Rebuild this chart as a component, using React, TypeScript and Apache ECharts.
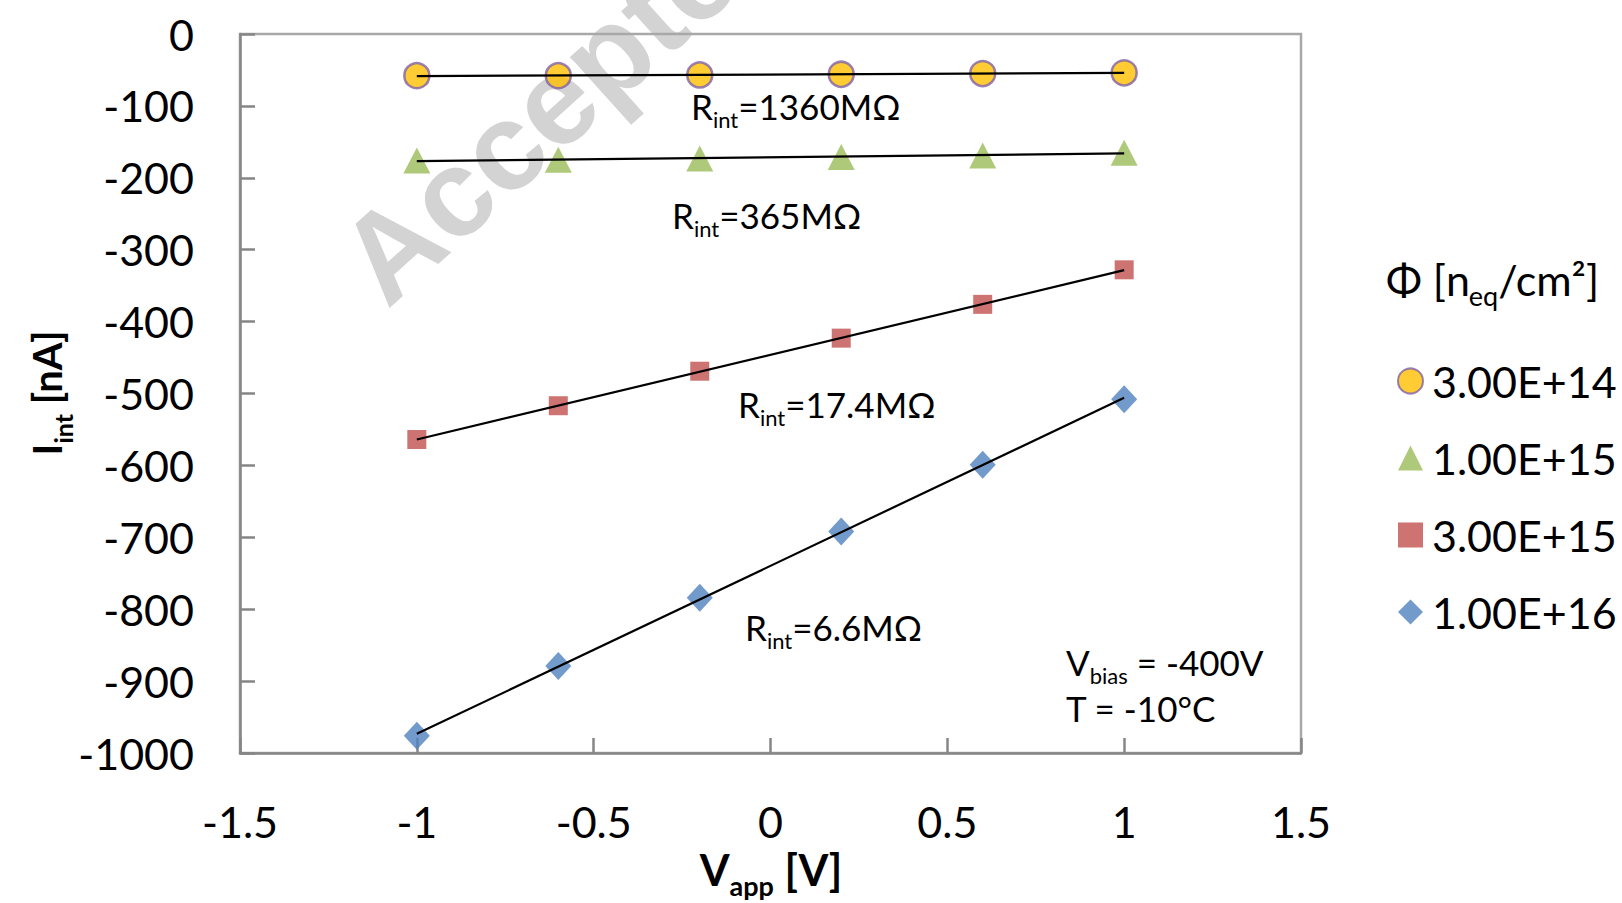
import React, { useEffect, useRef } from "react";
import * as echarts from "echarts";

const vApp = [-1, -0.6, -0.2, 0.2, 0.6, 1];
const seriesNames = ["3.00E+14", "1.00E+15", "3.00E+15", "1.00E+16"];
const iPhi3e14 = [-58, -58, -57, -56, -55, -54];
const iPhi1e15 = [-176, -175, -173, -171, -169, -165];
const iPhi3e15 = [-564, -517, -469, -423, -376, -328];
const iPhi1e16 = [-976, -879, -784, -692, -599, -508];
const rintLabels = ["1360MΩ", "365MΩ", "17.4MΩ", "6.6MΩ"];

const FONT = "Lato, 'Open Sans', 'DejaVu Sans', sans-serif";

function fitLine(xs: number[], ys: number[]) {
  const n = xs.length;
  const mx = xs.reduce((a, b) => a + b, 0) / n;
  const my = ys.reduce((a, b) => a + b, 0) / n;
  let sxy = 0, sxx = 0;
  for (let i = 0; i < n; i++) {
    sxy += (xs[i] - mx) * (ys[i] - my);
    sxx += (xs[i] - mx) * (xs[i] - mx);
  }
  const b = sxy / sxx;
  const a = my - b * mx;
  return [[xs[0], a + b * xs[0]], [xs[n - 1], a + b * xs[n - 1]]];
}

function richSub(F: number, f: number, bold = false) {
  const L = Math.round(F * 1.5);
  const offset = 0.35 * F + 0.25 * F - 0.35 * f;
  const padTop = Math.round(L / 2 + offset - f / 2);
  const fw = bold ? "bold" : "normal";
  return {
    m: { fontSize: F, lineHeight: L, fontFamily: FONT, fontWeight: fw, fill: "#000" },
    s: {
      fontSize: f,
      lineHeight: f,
      fontFamily: FONT,
      fontWeight: fw,
      fill: "#000",
      verticalAlign: "top",
      padding: [padTop, 0, 0, 0],
    },
  };
}

function textEl(x: number, y: number, text: string, rich: any, extra: any = {}) {
  return {
    type: "text",
    x,
    y,
    z: 50,
    ...extra,
    style: {
      text,
      rich,
      align: extra.align || "left",
      verticalAlign: "middle",
      fill: "#000",
      font: `35px ${FONT}`,
    },
  };
}

export default function App() {
  const ref = useRef<HTMLDivElement>(null);
  useEffect(() => {
    if (!ref.current) return;
    const chart = echarts.init(ref.current, null, { renderer: "svg" });
    const pts = (ys: number[]) => vApp.map((x, i) => [x, ys[i]]);
    const axisColor = "#868686";
    const allY = [iPhi3e14, iPhi1e15, iPhi3e15, iPhi1e16];
    const markers = [
      { symbol: "circle", size: 25, color: "#FFC000", border: "#7F62A6", bw: 2.5 },
      { symbol: "triangle", size: [27, 26], color: "#9BBB59", border: "#9BBB59", bw: 0 },
      { symbol: "rect", size: 19, color: "#C0504D", border: "#C0504D", bw: 0 },
      { symbol: "diamond", size: [26, 28], color: "#4F81BD", border: "#4F81BD", bw: 0 },
    ];
    const scatter = allY.map((ys, k) => ({
      name: seriesNames[k],
      type: "scatter",
      data: pts(ys),
      symbol: markers[k].symbol,
      symbolSize: markers[k].size,
      itemStyle: { color: markers[k].color, borderColor: markers[k].border, borderWidth: markers[k].bw },
      z: 3,
    }));
    const fits = allY.map((ys) => ({
      type: "line",
      data: fitLine(vApp, ys),
      showSymbol: false,
      symbol: "none",
      lineStyle: { color: "#000", width: 2.2 },
      z: 4,
      silent: true,
    }));

    const r35 = richSub(35, 22);
    const r43 = richSub(43, 27);
    const r43b = richSub(43, 27, true);
    const r40b = richSub(40, 25, true);

    const option: any = {
      animation: false,
      backgroundColor: "#fff",
      grid: {
        left: 240,
        top: 34,
        width: 1061,
        height: 719,
        show: true,
        borderColor: "#a8a8a8",
        borderWidth: 2.5,
        backgroundColor: "transparent",
      },
      xAxis: {
        type: "value",
        min: -1.5,
        max: 1.5,
        interval: 0.5,
        axisLine: { show: true, onZero: false, lineStyle: { color: axisColor, width: 2.5 } },
        axisTick: { show: true, inside: true, length: 15, lineStyle: { color: axisColor, width: 2.5 } },
        splitLine: { show: false },
        axisLabel: { fontSize: 43, color: "#000", fontFamily: FONT, margin: 47, formatter: (v: number) => String(v) },
      },
      yAxis: {
        type: "value",
        min: -1000,
        max: 0,
        interval: 100,
        axisLine: { show: true, onZero: false, lineStyle: { color: axisColor, width: 2.5 } },
        axisTick: { show: true, inside: true, length: 15, lineStyle: { color: axisColor, width: 2.5 } },
        splitLine: { show: false },
        axisLabel: { fontSize: 43, color: "#000", fontFamily: FONT, margin: 46, formatter: (v: number) => String(v) },
      },
      legend: {
        orient: "vertical",
        left: 1392,
        top: 351,
        itemWidth: 25,
        itemHeight: 25,
        itemGap: 27,
        data: seriesNames,
        textStyle: { fontSize: 43, lineHeight: 50, color: "#000", fontFamily: FONT, padding: [0, 0, 0, 4] },
      },
      graphic: [
        {
          type: "text",
          x: 400,
          y: 324,
          rotation: 0.733,
          z: -10,
          style: {
            text: "Accepted Manuscript",
            font: "bold 124px 'Liberation Sans', Arial, sans-serif",
            fill: "#d3d3d3",
            align: "left",
            verticalAlign: "bottom",
          },
        },
        textEl(691, 106, `{m|R}{s|int}{m|=${rintLabels[0]}}`, r35),
        textEl(672, 215, `{m|R}{s|int}{m|=${rintLabels[1]}}`, r35),
        textEl(738, 404, `{m|R}{s|int}{m|=${rintLabels[2]}}`, r35),
        textEl(745, 627, `{m|R}{s|int}{m|=${rintLabels[3]}}`, r35),
        textEl(1066, 662, "{m|V}{s|bias}{m| = -400V}", r35),
        textEl(1066, 708, "{m|T = -10°C}", r35),
        textEl(1386, 279, "{m|Φ [n}{s|eq}{m|/cm²]}", r43),
        textEl(771, 869, "{m|V}{s|app}{m| [V]}", r43b, { align: "center" }),
        textEl(47, 393, "{m|I}{s|int}{m| [nA]}", r40b, { align: "center", rotation: Math.PI / 2 }),
      ],
      series: [...scatter, ...fits],
    };
    chart.setOption(option);
    return () => chart.dispose();
  }, []);
  return (
    <div
      ref={ref}
      style={{ position: "absolute", left: 0, top: 0, width: 1622, height: 903 }}
    />
  );
}
